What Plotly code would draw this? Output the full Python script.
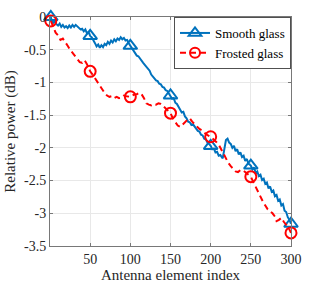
import plotly.graph_objects as go

# ---- data ----
smooth_x = [1, 2, 4, 6, 8, 10, 12, 14, 16, 18, 20, 22, 24, 26, 28, 30, 32, 34, 36, 38, 40, 42, 44, 46, 48, 50,
            52, 54, 56, 58, 60, 62, 64, 66, 68, 70, 72, 74, 76, 78, 80, 82, 84, 86, 88, 90, 92, 94, 96, 98, 100,
            102, 104, 106, 108, 110, 112, 114, 116, 118, 120, 122, 124, 126, 128, 130, 132, 134, 136, 138, 140,
            142, 144, 146, 148, 150,
            152, 154, 156, 158, 160, 162, 164, 166, 168, 170, 172, 174, 176, 178, 180, 182, 184, 186, 188, 190,
            192, 194, 196, 198, 200, 202, 204, 206, 208, 210, 212, 215,
            217, 219, 221, 223, 225, 227, 229, 231, 233, 235, 237, 239, 241, 243, 245, 247, 250,
            252, 254, 256, 258, 260, 262, 264, 266, 268, 270, 272, 274, 276, 278, 280, 282, 284, 286, 288, 290,
            292, 294, 296, 298, 300]
smooth_y = [0.0, -0.05, -0.09, -0.07, -0.11, -0.13, -0.10, -0.15, -0.12, -0.16, -0.14, -0.17, -0.13, -0.16, -0.12,
            -0.15, -0.12, -0.14, -0.16, -0.19, -0.18, -0.22, -0.19, -0.25, -0.23, -0.29,
            -0.31, -0.37, -0.40, -0.45, -0.42, -0.47, -0.43, -0.46, -0.41, -0.43, -0.38, -0.41, -0.36, -0.39, -0.34,
            -0.37, -0.33, -0.35, -0.31, -0.34, -0.32, -0.36, -0.35, -0.40, -0.44,
            -0.47, -0.52, -0.54, -0.59, -0.60, -0.64, -0.67, -0.70, -0.73, -0.76, -0.80, -0.82, -0.88, -0.91, -0.93,
            -0.97, -0.98, -1.02, -1.03, -1.07, -1.08, -1.12, -1.13, -1.17, -1.20,
            -1.25, -1.24, -1.31, -1.33, -1.38, -1.41, -1.46, -1.45, -1.52, -1.55, -1.60, -1.61, -1.65, -1.64, -1.68,
            -1.70, -1.74, -1.75, -1.80, -1.81, -1.86, -1.87, -1.92, -1.94, -1.97, -2.02, -2.01, -2.07, -2.06, -2.12,
            -2.11, -2.16,
            -1.98, -1.88, -1.86, -1.92, -1.94, -2.00, -1.97, -2.05, -2.02, -2.10, -2.07, -2.14, -2.12, -2.20, -2.17,
            -2.24, -2.27,
            -2.33, -2.30, -2.38, -2.36, -2.43, -2.41, -2.49, -2.47, -2.55, -2.53, -2.62, -2.59, -2.67, -2.65, -2.74,
            -2.72, -2.81, -2.79, -2.88, -2.86, -2.96, -2.98, -3.06, -3.10, -3.16]

frosted_x = [1, 4, 7, 10, 13, 16, 19, 22, 25, 28, 31, 34, 37, 40, 43, 46, 50,
             53, 56, 59, 62, 65, 68, 71, 74, 77, 80, 83, 86, 89, 92, 95, 100,
             104, 108, 111, 114, 117, 120, 123, 126, 129, 132, 135, 138, 141, 144, 147, 150,
             153, 156, 159, 162, 165, 168, 171, 174, 177, 180, 183, 186, 189, 192, 195, 200,
             204, 207, 210, 213, 216, 219, 222, 225, 228, 231, 234, 237, 240, 243, 246, 250,
             253, 256, 259, 262, 265, 268, 271, 274, 277, 280, 282, 285, 288, 291, 294, 297, 300]
frosted_y = [-0.06, -0.15, -0.24, -0.28, -0.35, -0.33, -0.38, -0.44, -0.50, -0.55, -0.60, -0.64, -0.69, -0.70, -0.66, -0.72, -0.83,
             -0.88, -0.94, -0.98, -1.05, -1.11, -1.16, -1.20, -1.22, -1.21, -1.24, -1.22, -1.24, -1.23, -1.20, -1.21, -1.22,
             -1.19, -1.18, -1.16, -1.18, -1.24, -1.32, -1.34, -1.35, -1.33, -1.34, -1.32, -1.33, -1.36, -1.40, -1.43, -1.47,
             -1.55, -1.61, -1.66, -1.68, -1.65, -1.61, -1.57, -1.55, -1.60, -1.64, -1.68, -1.71, -1.73, -1.77, -1.80, -1.83,
             -1.87, -1.91, -1.95, -2.02, -2.10, -2.16, -2.23, -2.28, -2.32, -2.36, -2.37, -2.34, -2.34, -2.37, -2.40, -2.44,
             -2.52, -2.60, -2.68, -2.76, -2.82, -2.88, -2.94, -2.97, -3.00, -3.05, -3.12, -3.10, -3.07, -3.13, -3.17, -3.22, -3.30]

marker_idx = [1, 50, 100, 150, 200, 250, 300]

x_ticks = [50, 100, 150, 200, 250, 300]
y_ticks = [0, -0.5, -1, -1.5, -2, -2.5, -3, -3.5]
y_ticklabels = ["0", "-0.5", "-1", "-1.5", "-2", "-2.5", "-3", "-3.5"]

series_names = ["Smooth glass", "Frosted glass"]

# ---- styling ----
BLUE = "#0072BD"
RED = "#FF0000"
FONT = "Liberation Serif, Times New Roman, serif"
AXIS_COLOR = "rgb(120,120,120)"


def pick(xs, ys, idx):
    d = dict(zip(xs, ys))
    return [i for i in idx], [d[i] for i in idx]


fig = go.Figure()

# Smooth glass
fig.add_trace(go.Scatter(x=smooth_x, y=smooth_y, mode="lines",
                         line=dict(color=BLUE, width=2), showlegend=False, hoverinfo="skip"))
mx, my = pick(smooth_x, smooth_y, marker_idx)
fig.add_trace(go.Scatter(x=mx, y=my, mode="markers", cliponaxis=False,
                         marker=dict(symbol="triangle-up-open", size=12, color=BLUE,
                                     line=dict(color=BLUE, width=2)),
                         showlegend=False))

# Frosted glass
fig.add_trace(go.Scatter(x=frosted_x, y=frosted_y, mode="lines",
                         line=dict(color=RED, width=2, dash="6px,4px"), showlegend=False, hoverinfo="skip"))
mx, my = pick(frosted_x, frosted_y, marker_idx)
fig.add_trace(go.Scatter(x=mx, y=my, mode="markers", cliponaxis=False,
                         marker=dict(symbol="circle-open", size=11, color=RED,
                                     line=dict(color=RED, width=2)),
                         showlegend=False))

# legend entries
fig.add_trace(go.Scatter(x=[None], y=[None], mode="lines+markers", name=series_names[0],
                         line=dict(color=BLUE, width=2),
                         marker=dict(symbol="triangle-up-open", size=11, color=BLUE,
                                     line=dict(color=BLUE, width=2))))
fig.add_trace(go.Scatter(x=[None], y=[None], mode="lines+markers", name=series_names[1],
                         line=dict(color=RED, width=2, dash="6px,4px"),
                         marker=dict(symbol="circle-open", size=10, color=RED,
                                     line=dict(color=RED, width=2))))

axis_common = dict(showline=True, linecolor=AXIS_COLOR, linewidth=1, mirror="ticks",
                   ticks="inside", ticklen=3, tickcolor=AXIS_COLOR,
                   showgrid=True, gridcolor="rgb(232,232,232)", gridwidth=1,
                   zeroline=False, tickfont=dict(family=FONT, size=14, color="#262626"))

fig.update_xaxes(range=[0, 300], tickvals=x_ticks, **axis_common,
                 title=dict(text="Antenna element index", font=dict(family=FONT, size=15, color="#262626"),
                            standoff=2))
fig.update_yaxes(range=[-3.5, 0], tickvals=y_ticks, ticktext=y_ticklabels, **axis_common,
                 title=dict(text="Relative power (dB)", font=dict(family=FONT, size=15, color="#262626"),
                            standoff=4))

fig.update_layout(
    width=312, height=289, autosize=False,
    margin=dict(l=48, r=14, t=10, b=40, pad=0),
    plot_bgcolor="white", paper_bgcolor="white",
    font=dict(family=FONT, color="#262626"),
    legend=dict(x=1, y=1, xanchor="right", yanchor="top",
                bgcolor="white", bordercolor="rgb(80,80,80)", borderwidth=1,
                font=dict(family=FONT, size=13, color="#000000"),
                itemwidth=30, tracegroupgap=0),
)

fig.write_html("out.html", config={"responsive": False, "displayModeBar": False},
               post_script="document.body.style.margin='0';")
